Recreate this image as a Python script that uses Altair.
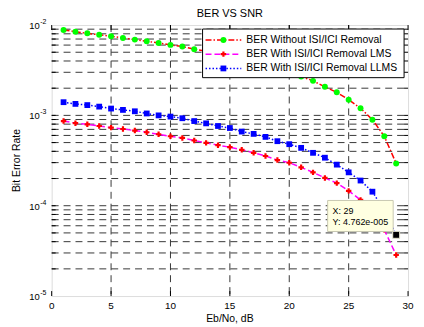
import altair as alt
import pandas as pd

# ---------------- data ----------------
snr = list(range(1, 30))
ber_without = [8.8e-3, 8.45e-3, 8.1e-3, 7.8e-3, 7.5e-3, 7.2e-3, 6.9e-3, 6.6e-3, 6.34e-3, 6.03e-3,
               5.78e-3, 5.4e-3, 5.13e-3, 4.84e-3, 4.55e-3, 4.25e-3, 3.94e-3, 3.63e-3, 3.31e-3, 3.0e-3,
               2.7e-3, 2.41e-3, 2.07e-3, 1.80e-3, 1.49e-3, 1.2e-3, 8.97e-4, 5.87e-4, 2.94e-4]
ber_lms = [8.65e-4, 8.2e-4, 7.96e-4, 7.63e-4, 7.32e-4, 7.07e-4, 6.79e-4, 6.5e-4, 6.18e-4, 5.87e-4,
           5.63e-4, 5.27e-4, 4.96e-4, 4.68e-4, 4.45e-4, 4.16e-4, 3.85e-4, 3.55e-4, 3.2e-4, 2.99e-4,
           2.66e-4, 2.34e-4, 2.03e-4, 1.78e-4, 1.46e-4, 1.16e-4, 8.4e-5, 5.4e-5, 2.85e-5]
ber_llms = [1.4e-3, 1.34e-3, 1.30e-3, 1.25e-3, 1.19e-3, 1.15e-3, 1.11e-3, 1.05e-3, 1.0e-3, 9.7e-4,
            9.3e-4, 8.65e-4, 8.16e-4, 7.63e-4, 7.25e-4, 6.62e-4, 6.24e-4, 5.78e-4, 5.18e-4, 4.8e-4,
            4.37e-4, 3.85e-4, 3.4e-4, 2.85e-4, 2.34e-4, 1.9e-4, 1.43e-4, 8.8e-5, 4.762e-5]

series_names = ["BER Without ISI/ICI Removal", "BER With ISI/ICI Removal LMS", "BER With ISI/ICI Removal LLMS"]
x_ticks = [0, 5, 10, 15, 20, 25, 30]
x_tick_labels = ["0", "5", "10", "15", "20", "25", "30"]
y_decades = [1e-5, 1e-4, 1e-3, 1e-2]
y_exponents = ["-5", "-4", "-3", "-2"]
tip_x = 29
tip_y = 4.762e-5
tip_lines = ["X: 29", "Y: 4.762e-005"]
title_text = "BER VS SNR"
x_title = "Eb/No, dB"
y_title = "Bit Error Rate"

# ---------------- layout / style ----------------
W, H = 359, 273
FONT = "Liberation Sans"
styles = [
    dict(line="#ff0000", dash=[6, 2, 1.5, 2], shape="circle", fill="#00ff00", size=36),
    dict(line="#ff00ff", dash=[6, 3], shape="cross", fill="#ff0000", size=30),
    dict(line="#0000ff", dash=[1.5, 2], shape="square", fill="#0000ff", size=34),
]

xs = alt.Scale(domain=[0, 30], nice=False, zero=False)
ys = alt.Scale(type="log", domain=[1e-5, 1e-2], nice=False)


def X(f):
    return alt.X(f, type="quantitative", scale=xs, axis=None)


def Y(f):
    return alt.Y(f, type="quantitative", scale=ys, axis=None)


minor_vals = [k * d for d in [1e-5, 1e-4, 1e-3] for k in range(1, 10) if k * d > 1e-5]
grid_x_df = pd.DataFrame({"gx": x_ticks[1:-1]})
grid_y_df = pd.DataFrame({"gy": minor_vals})
tick_x_df = pd.DataFrame({"gx": x_ticks, "lab": x_tick_labels})

layers = []
gstyle = dict(color="#222222", strokeWidth=0.9, strokeDash=[7, 5])
layers.append(alt.Chart(grid_x_df).mark_rule(**gstyle).encode(x=X("gx"), y=alt.value(0), y2=alt.value(H)))
layers.append(alt.Chart(grid_y_df).mark_rule(**gstyle).encode(y=Y("gy"), x=alt.value(0), x2=alt.value(W)))

# inward ticks (box style)
tk = dict(color="#000", strokeWidth=1)
layers.append(alt.Chart(grid_y_df).mark_rule(**tk).encode(y=Y("gy"), x=alt.value(0), x2=alt.value(4)))
layers.append(alt.Chart(grid_y_df).mark_rule(**tk).encode(y=Y("gy"), x=alt.value(W - 4), x2=alt.value(W)))
layers.append(alt.Chart(tick_x_df).mark_rule(**tk).encode(x=X("gx"), y=alt.value(H - 5), y2=alt.value(H)))
layers.append(alt.Chart(tick_x_df).mark_rule(**tk).encode(x=X("gx"), y=alt.value(0), y2=alt.value(5)))

# data series
for name, vals, st in zip(series_names, [ber_without, ber_lms, ber_llms], styles):
    df = pd.DataFrame({"snr": snr, "ber": vals})
    layers.append(alt.Chart(df).mark_line(color=st["line"], strokeWidth=1.5, strokeDash=st["dash"]).encode(
        x=X("snr"), y=Y("ber")))
    layers.append(alt.Chart(df).mark_point(shape=st["shape"], filled=True, color=st["fill"], size=st["size"],
                                           opacity=1).encode(x=X("snr"), y=Y("ber")))

# legend box
leg_df = pd.DataFrame({"a": [0]})
layers.append(alt.Chart(leg_df).mark_rect(fill="white", stroke="#000", strokeWidth=1).encode(
    x=alt.value(152), x2=alt.value(355), y=alt.value(4), y2=alt.value(53)))
row_y = [15, 29.3, 43.7]
for name, st, ry in zip(series_names, styles, row_y):
    layers.append(alt.Chart(leg_df).mark_rule(color=st["line"], strokeWidth=1.5, strokeDash=st["dash"]).encode(
        x=alt.value(155), x2=alt.value(191), y=alt.value(ry)))
    layers.append(alt.Chart(leg_df).mark_point(shape=st["shape"], filled=True, color=st["fill"], size=st["size"],
                                               opacity=1).encode(x=alt.value(173), y=alt.value(ry)))
    layers.append(alt.Chart(pd.DataFrame({"t": [name]})).mark_text(
        align="left", baseline="middle", font=FONT, fontSize=10.5, color="#000").encode(
        x=alt.value(196), y=alt.value(ry), text="t:N"))

# data tip
layers.append(alt.Chart(leg_df).mark_rect(fill="#ffffe1", stroke="#c8c8b0", strokeWidth=1).encode(
    x=alt.value(278), x2=alt.value(344), y=alt.value(176.7), y2=alt.value(208)))
for t, ty in zip(tip_lines, [187.5, 198.7]):
    layers.append(alt.Chart(pd.DataFrame({"t": [t]})).mark_text(
        align="left", baseline="middle", font=FONT, fontSize=9, color="#000").encode(
        x=alt.value(283), y=alt.value(ty), text="t:N"))
layers.append(alt.Chart(pd.DataFrame({"snr": [tip_x], "ber": [tip_y]})).mark_point(
    shape="square", filled=True, color="#000", size=49, stroke="#e8e8d0", strokeWidth=1, opacity=1).encode(
    x=X("snr"), y=Y("ber")))

# x tick labels
layers.append(alt.Chart(tick_x_df).mark_text(align="center", baseline="middle", font=FONT, fontSize=10,
                                             color="#000").encode(x=X("gx"), y=alt.value(H + 10.5), text="lab:N"))
# y tick labels 10^k
ylab_df = pd.DataFrame({"v": y_decades, "e": y_exponents, "b": ["10"] * 4})
layers.append(alt.Chart(ylab_df).mark_text(align="right", baseline="middle", font=FONT, fontSize=9.5,
                                           color="#000", dy=1).encode(x=alt.value(-12), y=Y("v"), text="b:N"))
layers.append(alt.Chart(ylab_df).mark_text(align="left", baseline="middle", font=FONT, fontSize=7,
                                           color="#000", dy=-3).encode(x=alt.value(-11.5), y=Y("v"), text="e:N"))
# axis titles
layers.append(alt.Chart(pd.DataFrame({"t": [y_title]})).mark_text(
    align="center", baseline="middle", angle=270, font=FONT, fontSize=10.5, color="#000").encode(
    x=alt.value(-35), y=alt.value(H / 2), text="t:N"))
layers.append(alt.Chart(pd.DataFrame({"t": [x_title]})).mark_text(
    align="center", baseline="middle", font=FONT, fontSize=10.5, color="#000").encode(
    x=alt.value(W / 2), y=alt.value(H + 23), text="t:N"))
# chart title
layers.append(alt.Chart(pd.DataFrame({"t": [title_text]})).mark_text(
    align="center", baseline="middle", font=FONT, fontSize=11, color="#000").encode(
    x=alt.value(W / 2), y=alt.value(-11), text="t:N"))

chart = alt.layer(*layers).properties(
    width=W, height=H,
    padding={"left": 44, "top": 16, "right": 8, "bottom": 30},
    autosize=alt.AutoSizeParams(type="none"),
).configure_view(stroke="#000", strokeWidth=1).configure(background="white")

chart.save("out.html", embed_options={"renderer": "svg", "actions": False})
